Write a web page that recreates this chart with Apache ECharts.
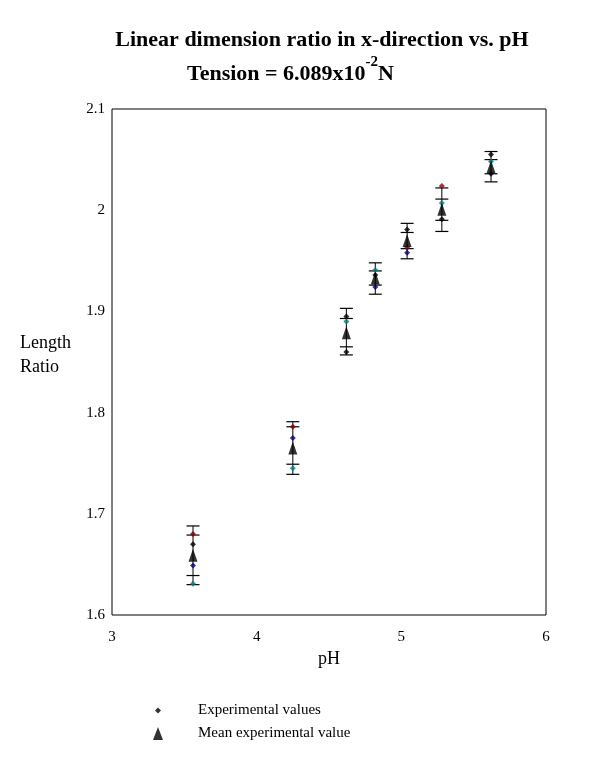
<!DOCTYPE html>
<html>
<head>
<meta charset="utf-8">
<script src="https://cdn.jsdelivr.net/npm/echarts@6/dist/echarts.min.js"></script>
<style>html,body{margin:0;padding:0;background:#fff}#c{width:589px;height:759px}</style>
</head>
<body>
<div id="c"></div>
<script>
// pH of each measurement cluster
const pH = [3.56, 4.25, 4.62, 4.82, 5.04, 5.28, 5.62];
// experimental values (by marker colour), null where absent
const expBlack  = [1.670, null, 1.895, 1.936, 1.981, 1.991, 2.055];
const expBlack2 = [null, null, 1.860, null, null, null, 2.036];
const expRed    = [1.680, 1.786, null, null, 1.963, 2.024, null];
const expBlue   = [1.649, 1.775, null, 1.924, 1.958, null, null];
const expTeal   = [1.631, 1.745, 1.890, 1.941, null, 2.007, 2.048];
// mean experimental values
const meanVal = [1.659, 1.765, 1.879, 1.933, 1.970, 2.001, 2.043];
// error bar limits
const outerHi = [1.688, 1.791, 1.903, 1.948, 1.987, 2.022, 2.058];
const outerLo = [1.630, 1.739, 1.857, 1.917, 1.952, 1.979, 2.028];
const innerHi = [1.679, 1.786, 1.893, 1.940, 1.978, 2.011, 2.050];
const innerLo = [1.639, 1.749, 1.865, 1.926, 1.962, 1.990, 2.036];
const xTicks = [3, 4, 5, 6];
const yTicks = [1.6, 1.7, 1.8, 1.9, 2.0, 2.1];

const FONT = "'Liberation Serif','Times New Roman',serif";
const pairs = arr => pH.map((p, i) => [p, arr[i]]).filter(d => d[1] != null);

const chart = echarts.init(document.getElementById('c'));
chart.setOption({
  animation: false,
  backgroundColor: '#fff',
  grid: { left: 112, top: 109, width: 434, height: 506, show: true, borderColor: '#000', borderWidth: 1, backgroundColor: 'transparent' },
  xAxis: {
    type: 'value', min: xTicks[0], max: xTicks[xTicks.length - 1], interval: 1,
    axisLine: { show: false }, axisTick: { show: false }, splitLine: { show: false },
    axisLabel: { color: '#000', fontFamily: FONT, fontSize: 15, margin: 15 },
    name: 'pH', nameLocation: 'middle', nameGap: 35,
    nameTextStyle: { color: '#000', fontFamily: FONT, fontSize: 18 }
  },
  yAxis: {
    type: 'value', min: yTicks[0], max: yTicks[yTicks.length - 1], interval: 0.1,
    axisLine: { show: false }, axisTick: { show: false }, splitLine: { show: false },
    axisLabel: { color: '#000', fontFamily: FONT, fontSize: 15, margin: 7, padding: [0, 0, 8, 0],
      formatter: v => String(Math.round(v * 10) / 10) }
  },
  legend: [
    { data: [{ name: 'Experimental values', icon: 'diamond' }], left: 150, top: 698, orient: 'vertical',
      itemWidth: 6, itemHeight: 6, textStyle: { fontFamily: FONT, fontSize: 15, color: '#000', padding: [0, 0, 0, 32] } },
    { data: [{ name: 'Mean experimental value', icon: 'triangle' }], left: 148, top: 721, orient: 'vertical',
      itemWidth: 10, itemHeight: 13, textStyle: { fontFamily: FONT, fontSize: 15, color: '#000', padding: [0, 0, 0, 30] } }
  ],
  graphic: [
    { type: 'text', x: 322, y: 40, style: { text: 'Linear dimension ratio in x-direction vs. pH',
        font: "bold 22px 'Liberation Serif','Times New Roman',serif", fill: '#000', align: 'center', verticalAlign: 'middle' } },
    { type: 'text', x: 187, y: 55, style: {
        text: '{a|Tension = 6.089x10}{s|-2}{a|N}',
        rich: {
          a: { fontFamily: FONT, fontWeight: 'bold', fontSize: 22, lineHeight: 30, verticalAlign: 'bottom', fill: '#000' },
          s: { fontFamily: FONT, fontWeight: 'bold', fontSize: 15, lineHeight: 16, verticalAlign: 'top', fill: '#000' }
        } } },
    { type: 'text', left: 20, top: 331, style: { text: 'Length\nRatio',
        font: "18px 'Liberation Serif','Times New Roman',serif", lineHeight: 24, fill: '#000' } }
  ],
  series: [
    {
      type: 'custom', name: 'errorbars', silent: true,
      data: pH.map((p, i) => [p, outerHi[i], outerLo[i], innerHi[i], innerLo[i]]),
      encode: { x: 0, y: [1, 2] },
      renderItem: function (params, api) {
        const x = api.value(0);
        const hw = 6.5;
        const pts = [1, 2, 3, 4].map(k => api.coord([x, api.value(k)]));
        const children = [{ type: 'line', shape: { x1: pts[0][0], y1: pts[0][1], x2: pts[1][0], y2: pts[1][1] },
          style: { stroke: '#000', lineWidth: 1 } }];
        pts.forEach(pt => children.push({ type: 'line',
          shape: { x1: pt[0] - hw, y1: pt[1], x2: pt[0] + hw, y2: pt[1] }, style: { stroke: '#000', lineWidth: 1.2 } }));
        return { type: 'group', children };
      }
    },
    { type: 'scatter', name: 'Experimental values', symbol: 'diamond', symbolSize: 6, itemStyle: { color: '#000' }, data: pairs(expBlack) },
    { type: 'scatter', name: 'exp2', symbol: 'diamond', symbolSize: 6, itemStyle: { color: '#000' }, data: pairs(expBlack2) },
    { type: 'scatter', name: 'expRed', symbol: 'diamond', symbolSize: 6, itemStyle: { color: '#8b0000' }, data: pairs(expRed) },
    { type: 'scatter', name: 'expBlue', symbol: 'diamond', symbolSize: 6, itemStyle: { color: '#000080' }, data: pairs(expBlue) },
    { type: 'scatter', name: 'expTeal', symbol: 'diamond', symbolSize: 6, itemStyle: { color: '#008080' }, data: pairs(expTeal) },
    { type: 'scatter', name: 'Mean experimental value', symbol: 'triangle', symbolSize: [9, 13], itemStyle: { color: '#000' }, data: pairs(meanVal) }
  ]
});
</script>
</body>
</html>
